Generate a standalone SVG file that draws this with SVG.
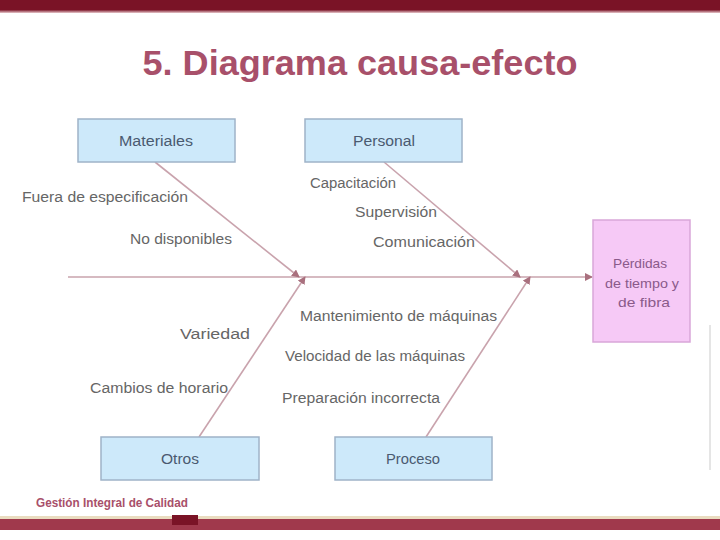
<svg xmlns="http://www.w3.org/2000/svg" width="720" height="540" viewBox="0 0 720 540">
<defs>
<style>
.box{fill:#cde9fa;stroke:#9fb3c8;stroke-width:1.5}
.eff{fill:#f6c9f6;stroke:#d9a6d9;stroke-width:1.5}
.bl{font-family:"Liberation Sans",Arial,sans-serif;font-size:14px;fill:#4a5a70;text-anchor:middle}
.el{font-family:"Liberation Sans",Arial,sans-serif;font-size:13px;fill:#8a5a8a;text-anchor:middle}
.sc{font-family:"Liberation Sans",Arial,sans-serif;font-size:14px;fill:#666666}
.bone{stroke:#c9a3ad;stroke-width:1.6;fill:none}
</style>
<marker id="ah" markerWidth="8" markerHeight="8" refX="7" refY="4" orient="auto" markerUnits="userSpaceOnUse">
<path d="M0,0 L8,4 L0,8 z" fill="#a9707e"/>
</marker>
<linearGradient id="tg" x1="0" y1="0" x2="0" y2="1">
<stop offset="0" stop-color="#7a1326"/><stop offset="0.75" stop-color="#7a1326"/><stop offset="1" stop-color="#e8c8cc"/>
</linearGradient>
</defs>
<rect x="0" y="0" width="720" height="540" fill="#ffffff"/>
<rect x="0" y="0" width="720" height="13" fill="url(#tg)"/>
<text x="360" y="75" font-family="Liberation Sans,Arial,sans-serif" font-size="35" font-weight="bold" fill="#a8506a" text-anchor="middle" textLength="435" lengthAdjust="spacingAndGlyphs">5. Diagrama causa-efecto</text>

<g id="connectors">
<line class="bone" x1="68" y1="277" x2="592" y2="277" marker-end="url(#ah)"/>
<line class="bone" x1="155" y1="162" x2="299" y2="277" marker-end="url(#ah)"/>
<line class="bone" x1="384" y1="162" x2="520" y2="277" marker-end="url(#ah)"/>
<line class="bone" x1="199" y1="437" x2="305" y2="277" marker-end="url(#ah)"/>
<line class="bone" x1="426" y1="437" x2="530" y2="277" marker-end="url(#ah)"/>
</g>

<g id="materiales"><rect class="box" x="78" y="119" width="157" height="43"/><text class="bl" x="156" y="146" textLength="74" lengthAdjust="spacingAndGlyphs">Materiales</text></g>
<g id="personal"><rect class="box" x="305" y="119" width="157" height="43"/><text class="bl" x="384" y="146" textLength="62" lengthAdjust="spacingAndGlyphs">Personal</text></g>
<g id="otros"><rect class="box" x="101" y="437" width="158" height="43"/><text class="bl" x="180" y="464" textLength="38" lengthAdjust="spacingAndGlyphs">Otros</text></g>
<g id="proceso"><rect class="box" x="335" y="437" width="157" height="43"/><text class="bl" x="413" y="464" textLength="54" lengthAdjust="spacingAndGlyphs">Proceso</text></g>
<g id="efecto"><rect class="eff" x="593" y="220" width="97" height="122"/>
<text class="el" x="640" y="268" textLength="54" lengthAdjust="spacingAndGlyphs">Pérdidas</text>
<text class="el" x="642" y="288" textLength="74" lengthAdjust="spacingAndGlyphs">de tiempo y</text>
<text class="el" x="644" y="307" textLength="52" lengthAdjust="spacingAndGlyphs">de fibra</text></g>

<g id="subcausas">
<text class="sc" x="22" y="202" textLength="166" lengthAdjust="spacingAndGlyphs">Fuera de especificación</text>
<text class="sc" x="130" y="244" textLength="102" lengthAdjust="spacingAndGlyphs">No disponibles</text>
<text class="sc" x="310" y="188" textLength="86" lengthAdjust="spacingAndGlyphs">Capacitación</text>
<text class="sc" x="355" y="217" textLength="82" lengthAdjust="spacingAndGlyphs">Supervisión</text>
<text class="sc" x="373" y="247" textLength="102" lengthAdjust="spacingAndGlyphs">Comunicación</text>
<text class="sc" x="180" y="339" textLength="70" lengthAdjust="spacingAndGlyphs">Variedad</text>
<text class="sc" x="90" y="393" textLength="138" lengthAdjust="spacingAndGlyphs">Cambios de horario</text>
<text class="sc" x="300" y="321" textLength="197" lengthAdjust="spacingAndGlyphs">Mantenimiento de máquinas</text>
<text class="sc" x="285" y="361" textLength="180" lengthAdjust="spacingAndGlyphs">Velocidad de las máquinas</text>
<text class="sc" x="282" y="403" textLength="158" lengthAdjust="spacingAndGlyphs">Preparación incorrecta</text>
</g>

<line x1="710" y1="325" x2="710" y2="470" stroke="#dddddd" stroke-width="1.5"/>
<text x="36" y="507" font-family="Liberation Sans,Arial,sans-serif" font-size="12" font-weight="bold" fill="#a8506a" textLength="152" lengthAdjust="spacingAndGlyphs">Gestión Integral de Calidad</text>
<rect x="0" y="516" width="720" height="3" fill="#eadcc0"/>
<rect x="0" y="519" width="720" height="11" fill="#a0394c"/>
<rect x="172" y="515" width="26" height="10" fill="#7a1326"/>
</svg>
